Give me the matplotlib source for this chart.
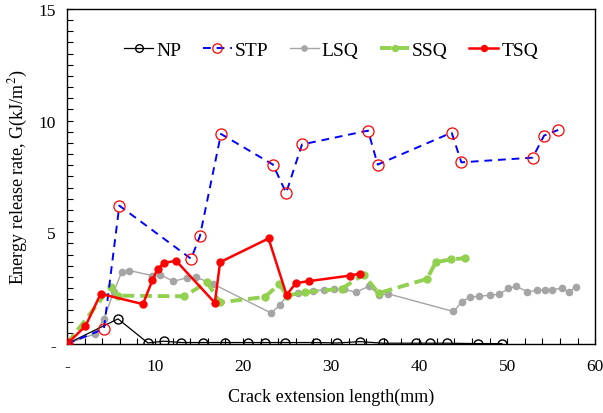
import numpy as np
import matplotlib
matplotlib.use('Agg')
from matplotlib import pyplot as plt

plt.rcParams['font.family'] = ['Liberation Serif', 'DejaVu Serif']
plt.rcParams['mathtext.fontset'] = 'stix'

#data
npX = [0, 5.8, 9.2, 11.0, 13.0, 15.4, 18.0, 20.6, 22.5, 24.8, 28.3, 30.7, 33.3, 35.9, 39.6, 41.2, 43.2, 46.7, 49.4]
npY = [0, 1.12, 0.04, 0.12, 0.06, 0.06, 0.06, 0.06, 0.06, 0.06, 0.06, 0.04, 0.1, 0.03, 0.03, 0.03, 0.03, 0.01, 0.01]

stpX = [0, 4.2, 5.95, 14.1, 15.1, 17.5, 23.4, 24.9, 26.7, 34.2, 35.3, 43.7, 44.8, 52.9, 54.2, 55.8]
stpY = [0, 0.67, 6.19, 3.81, 4.82, 9.40, 8.03, 6.76, 8.93, 9.55, 8.03, 9.46, 8.13, 8.34, 9.33, 9.58]

lsqX = [0, 3.2, 4.2, 5.3, 6.2, 7.1, 9.7, 10.6, 12.1, 13.6, 14.7, 16.6, 23.2, 24.2, 25.0, 26.3, 28.0, 29.2, 30.3, 31.5,
		32.8, 34.3, 35.5, 36.5, 43.9, 44.85, 45.8, 46.85, 48.0, 49.1, 50.15, 51.0, 52.3, 53.4, 54.3, 55.1, 56.25, 57.0, 57.8]
lsqY = [0, 0.45, 1.12, 2.31, 3.2, 3.28, 3.06, 3.1, 2.8, 2.96, 2.98, 2.68, 1.38, 1.74, 2.16, 2.28, 2.36, 2.43, 2.46, 2.45,
		2.31, 2.58, 2.18, 2.24, 1.45, 1.87, 2.1, 2.13, 2.18, 2.22, 2.48, 2.58, 2.34, 2.39, 2.42, 2.43, 2.49, 2.31, 2.55]

ssqX = [0, 4.96, 5.8, 13.3, 15.9, 17.4, 22.5, 24.1, 25.0, 27.0, 31.2, 33.7, 35.4, 40.9, 41.9, 43.6, 45.2]
ssqY = [0, 2.54, 2.16, 2.13, 2.75, 1.86, 2.10, 2.67, 2.16, 2.31, 2.47, 3.1, 2.27, 2.91, 3.66, 3.78, 3.84]

tsqX = [0, 2.1, 3.83, 8.64, 9.7, 10.3, 11.06, 12.4, 16.8, 17.4, 22.9, 24.95, 26.0, 27.5, 32.2, 33.3]
tsqY = [0, 0.79, 2.24, 1.78, 2.85, 3.36, 3.63, 3.72, 1.84, 3.66, 4.72, 2.19, 2.72, 2.81, 3.06, 3.15]

xTicks = [0, 10, 20, 30, 40, 50, 60]
xTickLabels = ['-', '10', '20', '30', '40', '50', '60']
yTicks = [0, 5, 10, 15]
yTickLabels = ['-', '5', '10', '15']

fig = plt.figure(figsize=(6.03, 4.14), dpi=100)
ax = fig.add_axes([0.111, 0.167, 0.876, 0.809])

ax.plot(npX, npY, color='black', lw=0.9, marker='o', ms=6.5, mfc='none', mec='black', mew=1.0, label='NP', zorder=3)
ax.plot(stpX, stpY, color='#0000FF', lw=1.4, ls=(0, (4, 3)), marker='o', ms=8, mfc='none', mec='#FF0000', mew=0.9, label='STP', zorder=4)
ax.plot(lsqX, lsqY, color='#A5A5A5', lw=1.0, marker='o', ms=4.5, mfc='#A5A5A5', mec='#A5A5A5', label='LSQ', zorder=2)
ax.plot(ssqX, ssqY, color='#92D050', lw=2.8, ls=(0, (3, 1.5)), marker='o', ms=5, mfc='#92D050', mec='#92D050', label='SSQ', zorder=2)
ax.plot(tsqX, tsqY, color='#FF0000', lw=1.8, marker='o', ms=5, mfc='#FF0000', mec='#FF0000', label='TSQ', zorder=5)

ax.set_xlim(0, 60)
ax.set_ylim(0, 15)
ax.set_xticks(xTicks)
ax.set_xticklabels(xTickLabels)
ax.set_yticks(yTicks)
ax.set_yticklabels(yTickLabels)
ax.set_xticks(np.arange(0, 61, 2), minor=True)
ax.set_yticks(np.arange(0, 15.1, 0.5), minor=True)
ax.tick_params(which='both', direction='in', length=4, width=0.8, labelsize=12.5, pad=10)
ax.tick_params(axis='y', pad=8)

for s in ax.spines.values():
	s.set_linewidth(1.0)

ax.set_xlabel('Crack extension length(mm)', fontsize=13, labelpad=10)
ax.set_ylabel('Energy release rate, G(kJ/m$^2$)', fontsize=13, labelpad=6)

ax.legend(loc='upper center', bbox_to_anchor=(0.5, 0.955), ncol=5, frameon=False, fontsize=14,
	handlelength=1.5, columnspacing=1.1, handletextpad=0.15, markerscale=0.85)

fig.savefig('out.png', dpi=100)
